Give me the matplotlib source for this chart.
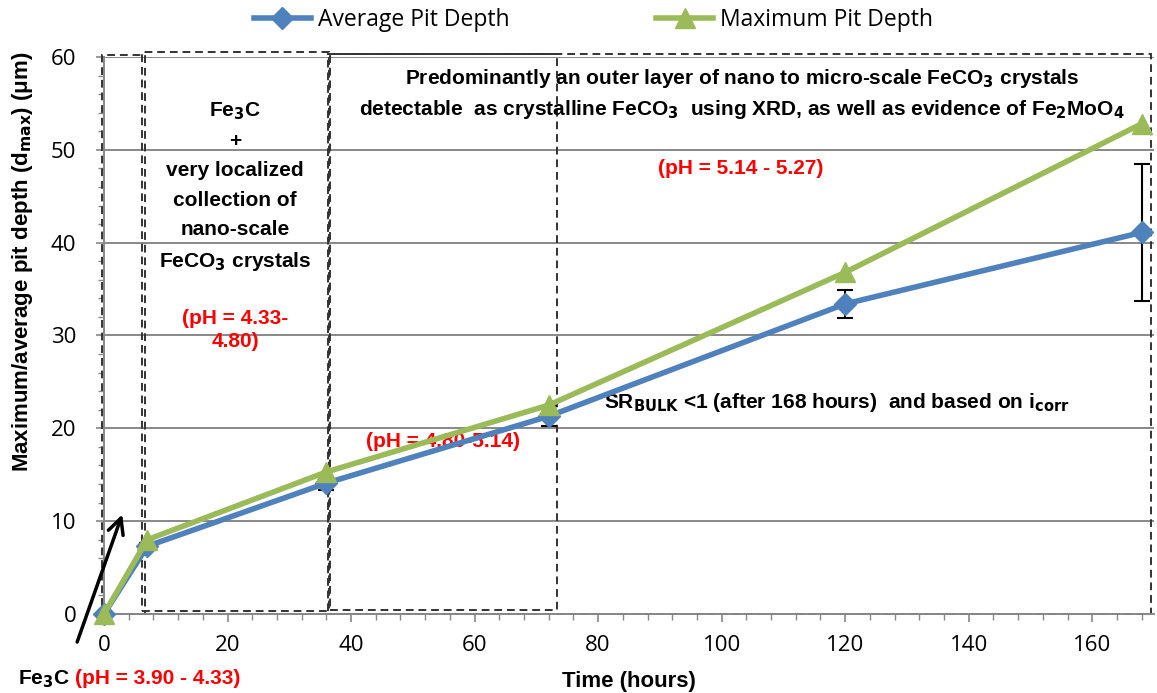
import matplotlib
matplotlib.use('Agg')
import matplotlib.pyplot as plt
from matplotlib.patches import Rectangle
from matplotlib.ticker import MultipleLocator

# exposure time (hours) and pit depth (um)
hours = [0, 7, 36, 72, 120, 168]
avg_depth = [0.0, 7.3, 14.1, 21.3, 33.4, 41.1]
avg_err = [0.0, 0.4, 0.7, 1.1, 1.55, 7.35]
max_depth = [0.0, 8.0, 15.3, 22.5, 36.8, 52.8]

# (start, end) in hours of the regions marked on the chart, plus depth span
regions = [
    (-0.3, 6.6, 0.0, 60.2),
    (6.2, 36.4, 0.3, 60.5),
    (36.6, 73.4, 0.4, 60.3),
    (36.3, 169.5, 0.0, 60.3),
]

BLUE = '#4F81BD'
GREEN = '#9BBB59'
GRID = '#888888'
RED = '#FF0000'
BOLD_FONT = ['Liberation Sans Narrow', 'Liberation Sans', 'DejaVu Sans']

plt.rcParams['font.family'] = ['Open Sans', 'DejaVu Sans']
plt.rcParams['mathtext.fontset'] = 'custom'
plt.rcParams['mathtext.rm'] = 'Liberation Sans Narrow:bold'
plt.rcParams['mathtext.it'] = 'Liberation Sans Narrow:bold'
plt.rcParams['mathtext.bf'] = 'Liberation Sans Narrow:bold'
plt.rcParams['mathtext.default'] = 'rm'

fig = plt.figure(figsize=(11.57, 6.93), dpi=100)
ax = fig.add_axes([0.0899, 0.114, 0.9075, 0.8038])

ax.set_xlim(0, 170)
ax.set_ylim(0, 60)
ax.xaxis.set_major_locator(MultipleLocator(20))
ax.xaxis.set_minor_locator(MultipleLocator(4))
ax.yaxis.set_major_locator(MultipleLocator(10))
ax.yaxis.set_minor_locator(MultipleLocator(2))
ax.set_xticks(range(0, 161, 20))
ax.grid(axis='y', color=GRID, linewidth=1.4)
ax.set_axisbelow(True)
for side in ['top', 'right']:
    ax.spines[side].set_visible(False)
for side in ['left', 'bottom']:
    ax.spines[side].set_color(GRID)
    ax.spines[side].set_linewidth(1.4)
ax.tick_params(which='major', direction='out', length=6, width=1.2,
               color=GRID, labelsize=16, pad=9)
ax.tick_params(which='minor', direction='out', length=4, width=1.0, color=GRID)
ax.tick_params(axis='y', pad=14)

# dashed boxes marking the corrosion product regimes
for x0, x1, y0, y1 in regions:
    ax.add_patch(Rectangle((x0, y0), x1 - x0, y1 - y0, fill=False,
                           edgecolor='#333333', linestyle=(0, (4, 2.5)),
                           linewidth=1.4, clip_on=False, zorder=2))

ax.errorbar(hours, avg_depth, yerr=avg_err, fmt='none', ecolor='black',
            elinewidth=1.5, capsize=6, capthick=1.5, zorder=3)
ax.plot(hours, avg_depth, color=BLUE, linewidth=4, marker='D', markersize=11,
        label='Average Pit Depth', zorder=4, clip_on=False)
ax.plot(hours, max_depth, color=GREEN, linewidth=4, marker='^', markersize=14,
        label='Maximum Pit Depth', zorder=5, clip_on=False)

ax.set_xlabel('Time (hours)', fontsize=16, fontweight='bold', family=BOLD_FONT,
              labelpad=11)
ax.set_ylabel('Maximum/average pit depth (d$_{max}$) (\u03bcm)', fontsize=16,
              fontweight='bold', family=BOLD_FONT)
ax.yaxis.set_label_coords(-0.066, 0.632)

txt = dict(fontweight='bold', family=BOLD_FONT, ha='center', va='center')

ax.text(21.2, 46.0,
        'Fe$_3$C\n+\nvery localized\ncollection of\nnano-scale\nFeCO$_3$ crystals',
        fontsize=15, linespacing=1.68, **txt)
ax.text(21.2, 30.6, '(pH = 4.33-\n4.80)', fontsize=15, color=RED,
        linespacing=1.3, **txt)
ax.text(103.3, 56.0,
        'Predominantly an outer layer of nano to micro-scale FeCO$_3$ crystals\n'
        'detectable  as crystalline FeCO$_3$  using XRD, as well as evidence of Fe$_2$MoO$_4$',
        fontsize=15, linespacing=1.5, **txt)
ax.text(103.1, 48.0, '(pH = 5.14 - 5.27)', fontsize=15, color=RED, **txt)
ax.text(54.9, 18.6, '(pH = 4.80-5.14)', fontsize=15, color=RED, **txt)
ax.text(81.0, 22.8, 'SR$_{BULK}$ <1 (after 168 hours)  and based on i$_{corr}$',
        fontsize=15, fontweight='bold', family=BOLD_FONT, ha='left', va='center')

# label under the origin with an arrow pointing at the first box
ax.annotate('', xy=(3.1, 11.0), xytext=(-4.5, -3.3),
            arrowprops=dict(arrowstyle='->', color='black', lw=2.5,
                            mutation_scale=28), annotation_clip=False)
ax.text(-13.9, -7.0, 'Fe$_3$C', fontsize=15, fontweight='bold', family=BOLD_FONT,
        ha='left', va='center', clip_on=False)
ax.text(-4.7, -7.0, '(pH = 3.90 - 4.33)', fontsize=15, color=RED,
        fontweight='bold', family=BOLD_FONT, ha='left', va='center', clip_on=False)

fig.legend(loc='upper center', bbox_to_anchor=(0.513, 1.018), ncol=2, frameon=False,
           fontsize=16.5, handlelength=2.5, handletextpad=0.3, columnspacing=6.4)

fig.savefig('out.png', dpi=100)
